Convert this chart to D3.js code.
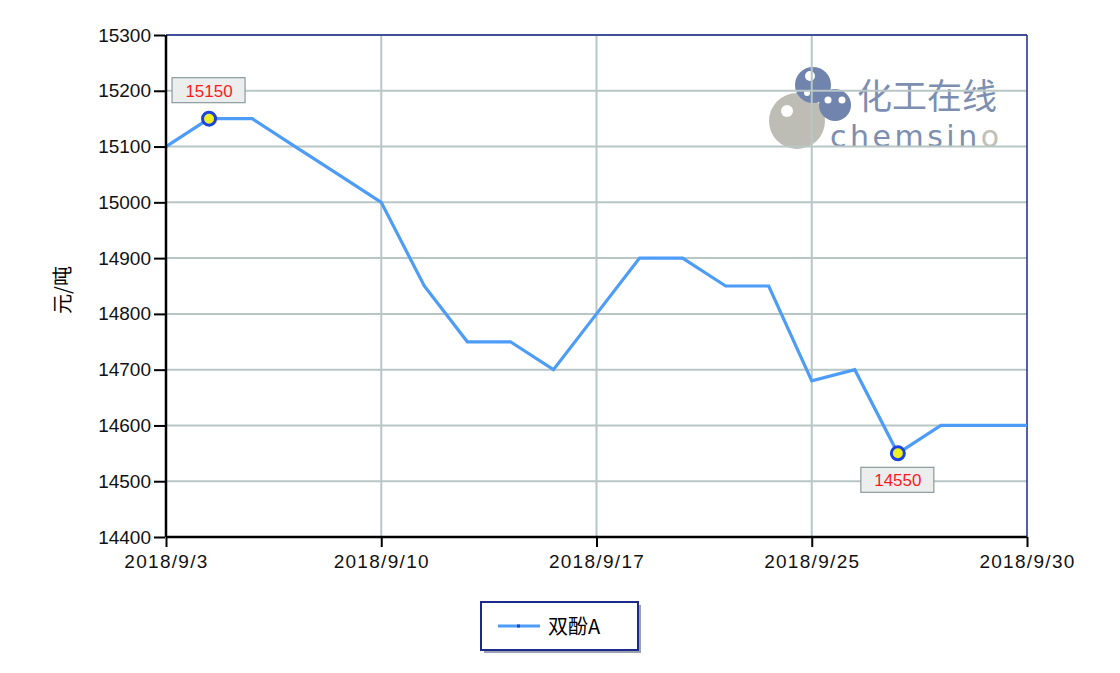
<!DOCTYPE html>
<html><head><meta charset="utf-8">
<script src="https://cdn.jsdelivr.net/npm/d3@7"></script>
<style>body{margin:0;background:#fff;} svg{display:block;font-family:"Liberation Sans",Arial,sans-serif;}</style>
</head><body>
<script>
const dates = ["2018/9/3","2018/9/4","2018/9/5","2018/9/6","2018/9/7","2018/9/10","2018/9/11","2018/9/12","2018/9/13","2018/9/14","2018/9/17","2018/9/18","2018/9/19","2018/9/20","2018/9/21","2018/9/25","2018/9/26","2018/9/27","2018/9/28","2018/9/29","2018/9/30"];
const values = [15100,15150,15150,15100,15050,15000,14850,14750,14750,14700,14800,14900,14900,14850,14850,14680,14700,14550,14600,14600,14600];
const xTickLabels = ["2018/9/3","2018/9/10","2018/9/17","2018/9/25","2018/9/30"];
const yTicks = [14400,14500,14600,14700,14800,14900,15000,15100,15200,15300];
const seriesName = "双酚A";
const yTitle = "元/吨";

const W=1120,H=673;
const m={l:166,r:1027,t:35,b:537};
const svg=d3.select("body").append("svg").attr("width",W).attr("height",H);
const x=d3.scalePoint().domain(dates).range([m.l,m.r]);
const y=d3.scaleLinear().domain([14400,15300]).range([m.b,m.t]);

// watermark
const wm=svg.append("g");
wm.append("circle").attr("cx",797).attr("cy",121).attr("r",28).attr("fill","#bdbdb5");
wm.append("circle").attr("cx",787).attr("cy",111).attr("r",6).attr("fill","#fff");
wm.append("circle").attr("cx",813).attr("cy",85).attr("r",18).attr("fill","#7084ad");
wm.append("circle").attr("cx",810).attr("cy",76).attr("r",5).attr("fill","#fff");
wm.append("circle").attr("cx",807).attr("cy",93).attr("r",3).attr("fill","#fff");
wm.append("circle").attr("cx",835).attr("cy",105).attr("r",16).attr("fill","#7084ad");
wm.append("circle").attr("cx",828).attr("cy",100).attr("r",3.5).attr("fill","#fff");
wm.append("circle").attr("cx",842).attr("cy",100).attr("r",3.5).attr("fill","#fff");
wm.append("text").attr("x",857).attr("y",109).attr("font-size",35).attr("fill","#7c8fb0")
  .attr("font-family","Noto Sans CJK SC").text("化工在线");
const cw=wm.append("text").attr("x",830).attr("y",147).attr("font-size",30).attr("fill","#7c8fb0")
  .attr("letter-spacing",3.5).attr("font-family","DejaVu Sans");
cw.append("tspan").text("chemsin");
cw.append("tspan").attr("fill","#c0c0b8").text("o");

// grid
svg.append("g").selectAll("line").data(yTicks).join("line")
  .attr("x1",m.l).attr("x2",m.r).attr("y1",d=>y(d)).attr("y2",d=>y(d))
  .attr("stroke","#b9c6c6").attr("stroke-width",2);
svg.append("g").selectAll("line").data(xTickLabels.slice(1,-1)).join("line")
  .attr("x1",d=>x(d)).attr("x2",d=>x(d)).attr("y1",m.t).attr("y2",m.b)
  .attr("stroke","#b9c6c6").attr("stroke-width",2);

// borders
svg.append("line").attr("x1",m.l).attr("x2",m.r).attr("y1",m.t).attr("y2",m.t).attr("stroke","#1a2a8a").attr("stroke-width",1.5);
svg.append("line").attr("x1",m.r).attr("x2",m.r).attr("y1",m.t).attr("y2",m.b).attr("stroke","#1a2a8a").attr("stroke-width",1.5);

// line
svg.append("path").datum(values).attr("fill","none").attr("stroke","#4d9cf7").attr("stroke-width",3.2)
  .attr("stroke-linejoin","miter")
  .attr("d",d3.line().x((d,i)=>x(dates[i])).y(d=>y(d)));

// axes
const yAxis=svg.append("g").attr("transform",`translate(${m.l},0)`)
  .call(d3.axisLeft(y).tickValues(yTicks).tickSize(12).tickPadding(3).tickFormat(d3.format("d")));
const xAxis=svg.append("g").attr("transform",`translate(0,${m.b})`)
  .call(d3.axisBottom(x).tickValues(xTickLabels).tickSize(10).tickPadding(6));
[yAxis,xAxis].forEach(a=>{
  a.select(".domain").attr("stroke","#000").attr("stroke-width",2.5);
  a.selectAll(".tick line").attr("stroke","#000").attr("stroke-width",2);
  a.selectAll(".tick text").attr("font-size",19).attr("fill","#111").attr("font-family","Liberation Sans, Arial, sans-serif");
});
yAxis.select(".domain").attr("d",`M0,${m.t}V${m.b}`);
xAxis.select(".domain").attr("d",`M${m.l},0H${m.r}`);
xAxis.selectAll(".tick text").attr("dy","0.8em").attr("letter-spacing",1.3);
yAxis.selectAll(".tick line").attr("x1",-1);

svg.append("text").attr("transform",`translate(70,${(m.t+m.b)/2+4}) rotate(-90)`)
  .attr("text-anchor","middle").attr("font-size",20).attr("font-family","Noto Sans CJK SC").text(yTitle);

// max/min markers
const iMax=values.indexOf(d3.max(values)), iMin=values.indexOf(d3.min(values));
[[iMax,-1],[iMin,1]].forEach(([i,dir])=>{
  const cx=x(dates[i]), cy=y(values[i]);
  const by = dir<0 ? cy-41 : cy+14;
  svg.append("rect").attr("x",cx-37).attr("y",by).attr("width",73).attr("height",25)
    .attr("fill","#eceeee").attr("stroke","#8a9a9a").attr("stroke-width",1.2);
  svg.append("text").attr("x",cx).attr("y",by+19).attr("text-anchor","middle").attr("font-size",17)
    .attr("fill","#ff1a1a").text(values[i]);
  svg.append("circle").attr("cx",cx).attr("cy",cy).attr("r",6.5).attr("fill","#f0f020")
    .attr("stroke","#1b43e0").attr("stroke-width",3);
});

// legend
const lg=svg.append("g");
lg.append("rect").attr("x",484).attr("y",605).attr("width",157).attr("height",48).attr("fill","#9aa0b0");
lg.append("rect").attr("x",481).attr("y",602).attr("width",157).attr("height",48).attr("fill","#fff")
  .attr("stroke","#1c2a8c").attr("stroke-width",2);
lg.append("line").attr("x1",498).attr("x2",540).attr("y1",626).attr("y2",626).attr("stroke","#4d9cf7").attr("stroke-width",3);
lg.append("rect").attr("x",517).attr("y",624.5).attr("width",3).attr("height",3).attr("fill","#1b43e0");
lg.append("text").attr("x",548).attr("y",634).attr("font-size",20).attr("font-family","Noto Sans CJK SC").text(seriesName);
</script>
</body></html>
